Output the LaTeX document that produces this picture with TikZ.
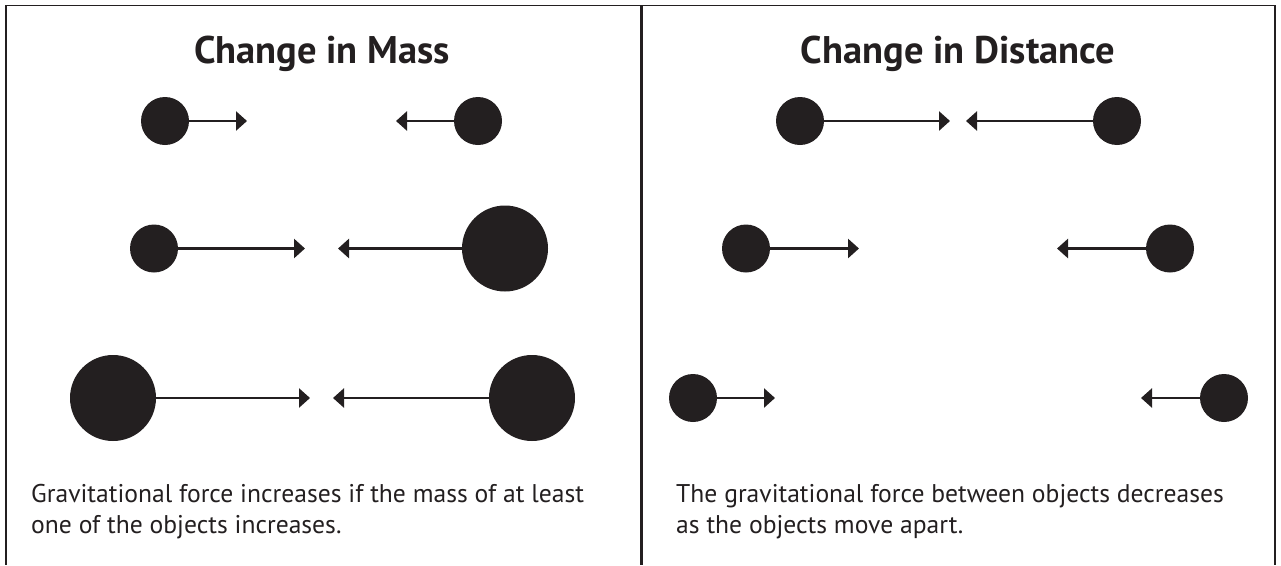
\documentclass[tikz,border=0pt]{standalone}
\usepackage{fontspec}
\setmainfont{PT Sans}
\usetikzlibrary{arrows.meta}
\definecolor{ink}{HTML}{231F20}
\begin{document}
\begin{tikzpicture}[x=1pt,y=-1pt,
  small/.style={circle,fill=ink,draw=none,inner sep=0pt,minimum size=48pt},
  big/.style={circle,fill=ink,draw=none,inner sep=0pt,minimum size=86pt},
  force/.style={draw=ink,line width=2.6pt,-{Triangle[length=11pt,width=19pt]}},
  frame/.style={draw=ink},
  title/.style={anchor=base,font=\bfseries\fontsize{38.5}{42}\selectfont,text=ink,inner sep=0pt},
  body/.style={anchor=base west,font=\fontsize{25.6}{31}\selectfont,text=ink,inner sep=0pt}]
\useasboundingbox (0,0) rectangle (1281,565);
% frame
\coordinate (tl) at (5,5.5);
\coordinate (tr) at (1276,5.5);
\draw[frame,line width=1.3pt] (tl) -- (tr);
\coordinate (l1) at (6,5); \coordinate (l2) at (6,565);
\coordinate (m1) at (641.5,5); \coordinate (m2) at (641.5,565);
\coordinate (r1) at (1275,5); \coordinate (r2) at (1275,565);
\draw[frame,line width=2pt] (l1) -- (l2);
\draw[frame,line width=3pt] (m1) -- (m2);
\draw[frame,line width=2.5pt] (r1) -- (r2);
% titles
\node[title] (tmass) at (322,63) {Change in Mass};
\node[title] (tdist) at (958,63) {Change in Distance};
% left panel
\node[small] (a1) at (165,121) {};
\node[small] (b1) at (478,121) {};
\coordinate (a1t) at (247,121); \coordinate (b1t) at (396,121);
\draw[force] (a1.center) ++(23,0) coordinate (a1s) (a1s) -- (a1t);
\draw[force] (b1.center) ++(-23,0) coordinate (b1s) (b1s) -- (b1t);
\node[small] (a2) at (154,248.5) {};
\node[big] (b2) at (505,248.5) {};
\coordinate (a2t) at (305,248.5); \coordinate (b2t) at (338,248.5);
\draw[force] (a2.center) ++(23,0) coordinate (a2s) (a2s) -- (a2t);
\draw[force] (b2.center) ++(-42,0) coordinate (b2s) (b2s) -- (b2t);
\node[big] (a3) at (113,398) {};
\node[big] (b3) at (532,398) {};
\coordinate (a3t) at (310,398); \coordinate (b3t) at (333,398);
\draw[force] (a3.center) ++(42,0) coordinate (a3s) (a3s) -- (a3t);
\draw[force] (b3.center) ++(-42,0) coordinate (b3s) (b3s) -- (b3t);
% right panel
\node[small] (c1) at (800,121) {};
\node[small] (d1) at (1117,121) {};
\coordinate (c1t) at (950,121); \coordinate (d1t) at (966,121);
\draw[force] (c1.center) ++(23,0) coordinate (c1s) (c1s) -- (c1t);
\draw[force] (d1.center) ++(-23,0) coordinate (d1s) (d1s) -- (d1t);
\node[small] (c2) at (746,248.5) {};
\node[small] (d2) at (1170,248.5) {};
\coordinate (c2t) at (859,248.5); \coordinate (d2t) at (1057,248.5);
\draw[force] (c2.center) ++(23,0) coordinate (c2s) (c2s) -- (c2t);
\draw[force] (d2.center) ++(-23,0) coordinate (d2s) (d2s) -- (d2t);
\node[small] (c3) at (693,398) {};
\node[small] (d3) at (1224,398) {};
\coordinate (c3t) at (775,398); \coordinate (d3t) at (1141,398);
\draw[force] (c3.center) ++(23,0) coordinate (c3s) (c3s) -- (c3t);
\draw[force] (d3.center) ++(-23,0) coordinate (d3s) (d3s) -- (d3t);
% captions
\node[body] (m1a) at (31,502) {Gravitational force increases if the mass of at least};
\node[body] (m1b) at (31,533) {one of the objects increases.};
\node[body] (d1a) at (676,502) {The gravitational force between objects decreases};
\node[body] (d1b) at (676,533) {as the objects move apart.};
\end{tikzpicture}
\end{document}
